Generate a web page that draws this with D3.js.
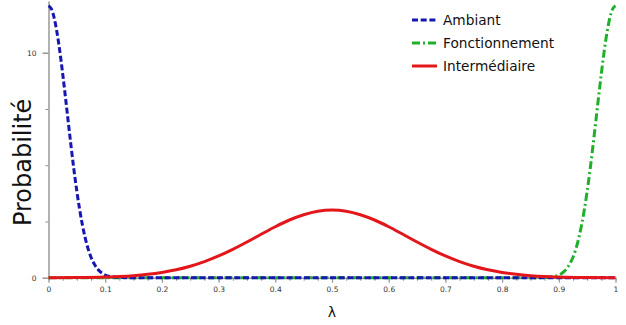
<!DOCTYPE html>
<html>
<head>
<meta charset="utf-8">
<script src="https://cdn.jsdelivr.net/npm/d3@7"></script>
<style>
  body { margin: 0; background: #fff; }
  svg { display: block; font-family: "DejaVu Sans", sans-serif; }
</style>
</head>
<body>
<div id="chart-container"></div>
<script>
// Values
const ambiantX = [0, 0.005, 0.01, 0.015, 0.02, 0.025, 0.03, 0.035, 0.04, 0.045, 0.05, 0.055, 0.06, 0.065, 0.07, 0.075, 0.08, 0.085, 0.09, 0.095, 0.1, 0.11, 0.12, 0.13, 0.15, 1];
const ambiantY = [12.09, 11.95, 11.55, 10.90, 10.06, 9.07, 8.00, 6.89, 5.80, 4.77, 3.84, 3.02, 2.32, 1.74, 1.27, 0.91, 0.64, 0.44, 0.29, 0.19, 0.12, 0.05, 0.02, 0.005, 0, 0];

const fonctX = [0, 0.85, 0.87, 0.88, 0.89, 0.9, 0.905, 0.91, 0.915, 0.92, 0.925, 0.93, 0.935, 0.94, 0.945, 0.95, 0.955, 0.96, 0.965, 0.97, 0.975, 0.98, 0.985, 0.99, 0.995, 1];
const fonctY = [0, 0, 0.005, 0.02, 0.05, 0.12, 0.19, 0.29, 0.44, 0.64, 0.91, 1.27, 1.74, 2.32, 3.02, 3.84, 4.77, 5.80, 6.89, 8.00, 9.07, 10.06, 10.90, 11.55, 11.95, 12.09];

const interX = [0, 0.05, 0.1, 0.125, 0.15, 0.175, 0.2, 0.225, 0.25, 0.275, 0.3, 0.325, 0.35, 0.375, 0.4, 0.425, 0.45, 0.475, 0.5, 0.525, 0.55, 0.575, 0.6, 0.625, 0.65, 0.675, 0.7, 0.725, 0.75, 0.775, 0.8, 0.825, 0.85, 0.875, 0.9, 0.95, 1];
const interY = [0.002, 0.009, 0.032, 0.055, 0.092, 0.149, 0.233, 0.350, 0.509, 0.713, 0.965, 1.26, 1.587, 1.93, 2.265, 2.565, 2.80, 2.957, 3.01, 2.957, 2.80, 2.565, 2.265, 1.93, 1.587, 1.26, 0.965, 0.713, 0.509, 0.350, 0.233, 0.149, 0.092, 0.055, 0.032, 0.009, 0.002];

const xTicks = [0, 0.1, 0.2, 0.3, 0.4, 0.5, 0.6, 0.7, 0.8, 0.9, 1];
const xTickLabels = ["0", "0.1", "0.2", "0.3", "0.4", "0.5", "0.6", "0.7", "0.8", "0.9", "1"];
const yTicks = [0, 10];
const yMinorTicks = [2.5, 5, 7.5];

const seriesNames = ["Ambiant", "Fonctionnement", "Intermédiaire"];

const width = 626, height = 325;

const x = d3.scaleLinear().domain([0, 1]).range([48.5, 615.5]);
const y = d3.scaleLinear().domain([0, 12.3]).range([277.7, 1]);

const svg = d3.select("#chart-container")
    .append("svg")
    .attr("width", width)
    .attr("height", height);

// x axis: minor ticks every 0.025
const xMinor = d3.range(0, 41).map(i => i / 40);
svg.append("g")
    .attr("transform", `translate(0,${y(0)})`)
    .call(d3.axisBottom(x).tickValues(xMinor).tickSize(3).tickFormat(""))
    .call(g => g.select(".domain").remove())
    .selectAll(".tick line").attr("stroke", "#888");

const xAxis = svg.append("g")
    .attr("transform", `translate(0,${y(0)})`)
    .style("font-size", "7.5px")
    .call(d3.axisBottom(x).tickValues(xTicks).tickSize(5).tickSizeOuter(0).tickPadding(4)
        .tickFormat((d, i) => xTickLabels[i]));
xAxis.select(".domain").attr("stroke", "#999").attr("stroke-width", 1.5);
xAxis.selectAll(".tick line").attr("stroke", "#999").attr("stroke-width", 1.2);
xAxis.selectAll(".tick text").attr("fill", "#333").style("font-family", "DejaVu Sans");

// y axis
svg.append("g")
    .attr("transform", `translate(${x(0)},0)`)
    .call(d3.axisLeft(y).tickValues(yMinorTicks).tickSize(3).tickFormat(""))
    .call(g => g.select(".domain").remove())
    .selectAll(".tick line").attr("stroke", "#888");

const yAxis = svg.append("g")
    .attr("transform", `translate(${x(0)},0)`)
    .style("font-size", "7.5px")
    .call(d3.axisLeft(y).tickValues(yTicks).tickSize(6).tickSizeOuter(0).tickPadding(6));
yAxis.select(".domain").attr("stroke", "#999").attr("stroke-width", 1.5);
yAxis.selectAll(".tick line").attr("stroke", "#999").attr("stroke-width", 1.5);
yAxis.selectAll(".tick text").attr("fill", "#333").style("font-family", "DejaVu Sans");

// axis titles
svg.append("text")
    .attr("transform", `translate(31,${(y(0) + y(12.3)) / 2 + 23}) rotate(-90)`)
    .attr("text-anchor", "middle")
    .style("font-size", "24px")
    .attr("fill", "#111")
    .text("Probabilité");

svg.append("text")
    .attr("x", x(0.5))
    .attr("y", 317)
    .attr("text-anchor", "middle")
    .style("font-size", "14px")
    .attr("fill", "#111")
    .text("λ");

// lines
const line = d3.line()
    .x(d => x(d[0]))
    .y(d => y(d[1]))
    .curve(d3.curveMonotoneX);

const series = [
    { name: seriesNames[1], xs: fonctX, ys: fonctY, color: "#1fb02a", dash: "8,3,2,3" },
    { name: seriesNames[0], xs: ambiantX, ys: ambiantY, color: "#1616b0", dash: "6,2.7" },
    { name: seriesNames[2], xs: interX, ys: interY, color: "#e3161c", dash: null }
];

series.forEach(s => {
    svg.append("path")
        .datum(s.xs.map((v, i) => [v, s.ys[i]]))
        .attr("fill", "none")
        .attr("stroke", s.color)
        .attr("stroke-width", 3)
        .attr("stroke-dasharray", s.dash)
        .attr("d", line);
});

// legend
const legendItems = [series[1], series[0], series[2]];
const legend = svg.append("g").attr("transform", "translate(412,20)");
legendItems.forEach((s, i) => {
    const g = legend.append("g").attr("transform", `translate(0,${i * 23})`);
    g.append("line")
        .attr("x1", 0).attr("x2", 25)
        .attr("y1", 0).attr("y2", 0)
        .attr("stroke", s.color)
        .attr("stroke-width", 3)
        .attr("stroke-dasharray", s.dash);
    g.append("text")
        .attr("x", 31)
        .attr("y", 0)
        .attr("dy", "0.35em")
        .style("font-size", "13.7px")
        .attr("fill", "#111")
        .text(s.name);
});
</script>
</body>
</html>
